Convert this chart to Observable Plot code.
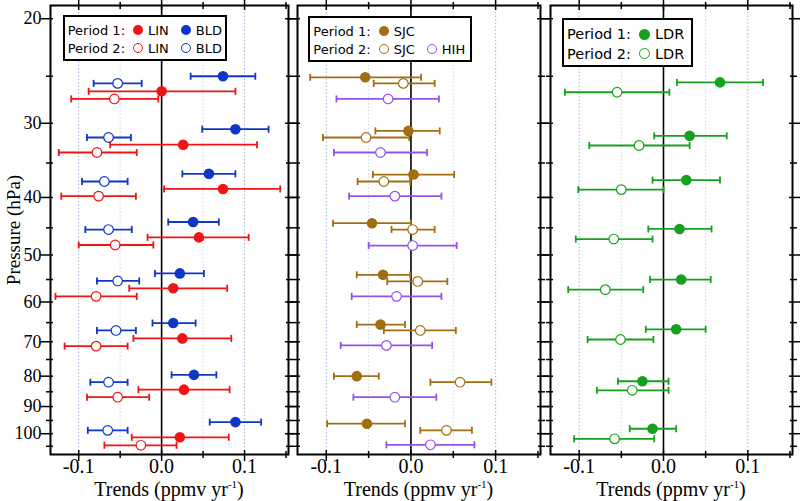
<!DOCTYPE html>
<html>
<head>
<meta charset="utf-8">
<script src="https://cdn.jsdelivr.net/npm/d3@7"></script>
<script src="https://cdn.jsdelivr.net/npm/@observablehq/plot@0.6"></script>
<style>
  html, body { margin: 0; padding: 0; background: #fff; }
  #chart { position: relative; width: 800px; height: 501px; overflow: hidden; background: #fff; }
  .panel { position: absolute; top: 0; }
  .panel svg { overflow: visible; }
  .legend { position: absolute; border: 2px solid #000; background: #fff; font-family: "DejaVu Sans", sans-serif; color: #000; padding: 4px 4px 2px 3px; white-space: nowrap; }
  .legend .row { display: flex; align-items: center; }
  .legend .mk { display: inline-block; border-radius: 50%; box-sizing: border-box; }
  .xt { position: absolute; top: 479px; text-align: center; font-family: "Liberation Serif", serif; font-size: 20px; line-height: 21px; color: #000; white-space: nowrap; }
  .xt sup { font-size: 11px; vertical-align: 0; position: relative; top: -8px; }
  .yt { position: absolute; left: 14px; top: 230px; transform: translate(-50%, -50%) rotate(-90deg); font-family: "Liberation Serif", serif; font-size: 19px; line-height: 20px; white-space: nowrap; color: #000; }
</style>
</head>
<body>
<div id="chart"></div>
<script>
// ---- axis ticks ----
const xMajor = [-0.1, 0, 0.1];
const xMinor = [-0.05, 0.05, 0.15];
const yMajor = [20, 30, 40, 50, 60, 70, 80, 90, 100];
const yMinor = [25, 35, 45, 55, 65, 75, 85, 95, 105];
const gridMajor = [-0.1, 0.1];
const gridMinor = [-0.05, 0.05];

// ---- data: [pressure (hPa), trend, lower, upper] (ppmv/yr) ----
const BLD_P1 = [[25.0,0.074,0.035,0.113],[30.7,0.089,0.049,0.129],[36.5,0.057,0.025,0.089],[44.0,0.038,0.008,0.069],[53.7,0.022,-0.008,0.051],[65.1,0.014,-0.011,0.041],[79.6,0.039,0.012,0.066],[95.6,0.089,0.058,0.120]];
const BLD_P2 = [[25.7,-0.053,-0.082,-0.024],[31.7,-0.064,-0.090,-0.037],[37.6,-0.069,-0.096,-0.041],[45.3,-0.064,-0.092,-0.036],[55.3,-0.053,-0.078,-0.027],[67.0,-0.055,-0.078,-0.031],[81.9,-0.064,-0.086,-0.041],[98.7,-0.065,-0.089,-0.041]];
const LIN_P1 = [[26.5,0.000,-0.088,0.089],[32.6,0.026,-0.062,0.115],[38.7,0.074,0.003,0.143],[46.7,0.045,-0.017,0.105],[56.9,0.014,-0.039,0.079],[69.1,0.025,-0.034,0.084],[84.3,0.027,-0.028,0.082],[101.4,0.022,-0.036,0.081]];
const LIN_P2 = [[27.3,-0.057,-0.109,-0.004],[33.6,-0.078,-0.124,-0.030],[39.8,-0.076,-0.121,-0.031],[48.1,-0.056,-0.100,-0.010],[58.7,-0.079,-0.128,-0.030],[71.2,-0.079,-0.117,-0.041],[86.8,-0.053,-0.090,-0.015],[104.6,-0.025,-0.069,0.018]];

const SJC_P1 = [[25.1,-0.054,-0.119,0.012],[30.9,-0.003,-0.042,0.034],[36.6,0.003,-0.045,0.051],[44.2,-0.046,-0.092,0.000],[54.0,-0.033,-0.064,-0.001],[65.5,-0.036,-0.064,-0.007],[80.0,-0.064,-0.091,-0.038],[96.2,-0.052,-0.099,-0.007]];
const SJC_P2 = [[25.7,-0.009,-0.044,0.028],[31.7,-0.053,-0.104,-0.002],[37.6,-0.032,-0.063,-0.001],[45.3,0.002,-0.023,0.028],[55.4,0.008,-0.028,0.043],[67.0,0.011,-0.032,0.053],[81.9,0.058,0.023,0.095],[98.7,0.042,0.011,0.072]];
const HIH_P2 = [[27.3,-0.027,-0.088,0.033],[33.6,-0.036,-0.091,0.019],[39.8,-0.019,-0.073,0.036],[48.2,0.002,-0.050,0.054],[58.7,-0.017,-0.070,0.036],[71.0,-0.029,-0.083,0.025],[86.8,-0.019,-0.068,0.030],[104.4,0.023,-0.029,0.075]];

const LDR_P1 = [[25.6,0.067,0.016,0.118],[31.5,0.031,-0.011,0.075],[37.4,0.027,-0.013,0.067],[45.2,0.019,-0.018,0.057],[55.0,0.021,-0.016,0.056],[66.7,0.015,-0.021,0.050],[81.6,-0.025,-0.054,0.006],[98.1,-0.013,-0.040,0.015]];
const LDR_P2 = [[26.6,-0.055,-0.117,0.007],[32.7,-0.029,-0.088,0.031],[38.8,-0.050,-0.101,0.000],[47.0,-0.059,-0.104,-0.013],[57.2,-0.069,-0.113,-0.024],[69.4,-0.051,-0.090,-0.012],[84.5,-0.037,-0.079,0.006],[102.0,-0.058,-0.106,-0.011]];

const COLORS = { LIN: "#f01414", BLD: "#1036c8", SJC: "#a26e12", HIH: "#9650eb", LDR: "#16a01e" };

const xTitle = "Trends (ppmv yr";
const yTitle = "Pressure (hPa)";

const panels = [
  { left: 0, width: 300, ml: 50, mr: 12, showY: true,
    series: [["BLD",1,BLD_P1],["BLD",2,BLD_P2],["LIN",1,LIN_P1],["LIN",2,LIN_P2]],
    legend: { left: 62.7, top: 15.3, font: 13, mk: 10, rowH: 18, pad: "4px 3px 2px 3px",
      rows: [["Period 1:", [["LIN",1],["BLD",1]]], ["Period 2:", [["LIN",2],["BLD",2]]]] } },
  { left: 284, width: 268, ml: 13, mr: 12, showY: false,
    series: [["SJC",1,SJC_P1],["SJC",2,SJC_P2],["HIH",2,HIH_P2]],
    legend: { left: 308.3, top: 16, font: 13, mk: 10, rowH: 18, pad: "4px 5px 2px 3px",
      rows: [["Period 1:", [["SJC",1]]], ["Period 2:", [["SJC",2],["HIH",2]]]] } },
  { left: 538, width: 262, ml: 12, mr: 8, showY: false,
    series: [["LDR",1,LDR_P1],["LDR",2,LDR_P2]],
    legend: { left: 562, top: 18.3, font: 14.5, mk: 11, rowH: 19.5, pad: "4px 7px 2px 3px",
      rows: [["Period 1:", [["LDR",1]]], ["Period 2:", [["LDR",2]]]] } }
];

const capSymbol = { draw(ctx, size) { const h = Math.sqrt(size / Math.PI); ctx.moveTo(0, -h); ctx.lineTo(0, h); } };

const chart = document.getElementById("chart");

for (const P of panels) {
  const marks = [
    Plot.ruleX(gridMinor, { stroke: "#cfd6ee", strokeWidth: 1, strokeDasharray: "1.5,2" }),
    Plot.ruleX(gridMajor, { stroke: "#a6b4e2", strokeWidth: 1, strokeDasharray: "1.5,2" }),
    Plot.ruleX([0], { stroke: "#000", strokeWidth: 1.6 })
  ];
  for (const [name, period, rows] of P.series) {
    const data = rows.map(([p, t, lo, hi]) => ({ p, t, lo, hi }));
    const c = COLORS[name];
    marks.push(
      Plot.ruleY(data, { y: "p", x1: "lo", x2: "hi", stroke: c, strokeWidth: 1.8 }),
      Plot.dot(data, { x: "lo", y: "p", r: 3.5, symbol: capSymbol, fill: "none", stroke: c, strokeWidth: 1.8 }),
      Plot.dot(data, { x: "hi", y: "p", r: 3.5, symbol: capSymbol, fill: "none", stroke: c, strokeWidth: 1.8 }),
      period === 1
        ? Plot.dot(data, { x: "t", y: "p", r: 5.3, fill: c, stroke: "none" })
        : Plot.dot(data, { x: "t", y: "p", r: 4.8, fill: "white", stroke: c, strokeWidth: 1.2 })
    );
  }
  marks.push(Plot.frame({ stroke: "#000", strokeWidth: 2 }));
  const tk = { fill: "none", label: null, stroke: "#000", strokeWidth: 1.5 };
  marks.push(
    Plot.axisY(yMajor, { ...tk, anchor: "left", tickSize: 13, dx: 3 }),
    Plot.axisY(yMinor, { ...tk, anchor: "left", tickSize: 7, dx: 3 }),
    Plot.axisY(yMajor, { ...tk, anchor: "right", tickSize: 12, dx: -4 }),
    Plot.axisY(yMinor, { ...tk, anchor: "right", tickSize: 7, dx: -3 }),
    Plot.axisX(xMajor, { ...tk, anchor: "bottom", tickSize: 11, dy: -4 }),
    Plot.axisX(xMinor, { ...tk, anchor: "bottom", tickSize: 7, dy: -3 }),
    Plot.axisX(xMajor, { ...tk, anchor: "top", tickSize: 11, dy: 4 }),
    Plot.axisX(xMinor, { ...tk, anchor: "top", tickSize: 7, dy: 3 }),
    Plot.axisX(xMajor, { anchor: "bottom", tickSize: 0, tickPadding: 4, fontSize: 20, tickFormat: d => d.toFixed(1), label: null, fill: "#000" })
  );
  if (P.showY) {
    marks.push(Plot.axisY(yMajor, { anchor: "left", tickSize: 0, tickPadding: 9, fontSize: 18, tickFormat: d => String(d), label: null, fill: "#000" }));
  }
  const svg = Plot.plot({
    width: P.width,
    height: 501,
    marginTop: 5,
    marginBottom: 47,
    marginLeft: P.ml,
    marginRight: P.mr,
    x: { domain: [-0.134, 0.153] },
    y: { type: "log", domain: [19, 108.4], reverse: true },
    style: { fontFamily: "'Liberation Serif', serif", background: "transparent", color: "#000" },
    marks
  });
  const holder = document.createElement("div");
  holder.className = "panel";
  holder.style.left = P.left + "px";
  holder.appendChild(svg);
  chart.appendChild(holder);

  // x title
  const xt = document.createElement("div");
  xt.className = "xt";
  xt.style.left = (P.left + P.ml) + "px";
  xt.style.width = (P.width - P.ml - P.mr) + "px";
  xt.innerHTML = xTitle + "<sup>-1</sup>)";
  chart.appendChild(xt);

  // legend
  const L = P.legend;
  const lg = document.createElement("div");
  lg.className = "legend";
  lg.style.left = L.left + "px";
  lg.style.top = L.top + "px";
  lg.style.fontSize = L.font + "px";
  lg.style.padding = L.pad;
  for (const [label, items] of L.rows) {
    const row = document.createElement("div");
    row.className = "row";
    row.style.height = L.rowH + "px";
    const t = document.createElement("span");
    t.textContent = label;
    row.appendChild(t);
    items.forEach(([name, period], i) => {
      const mk = document.createElement("span");
      mk.className = "mk";
      mk.style.width = L.mk + "px";
      mk.style.height = L.mk + "px";
      mk.style.marginLeft = (i === 0 ? 8 : 12) + "px";
      mk.style.marginRight = "5px";
      if (period === 1) mk.style.background = COLORS[name];
      else mk.style.border = "1.2px solid " + COLORS[name];
      row.appendChild(mk);
      const s = document.createElement("span");
      s.textContent = name;
      row.appendChild(s);
    });
    lg.appendChild(row);
  }
  chart.appendChild(lg);
}

const yt = document.createElement("div");
yt.className = "yt";
yt.textContent = yTitle;
chart.appendChild(yt);
</script>
</body>
</html>
